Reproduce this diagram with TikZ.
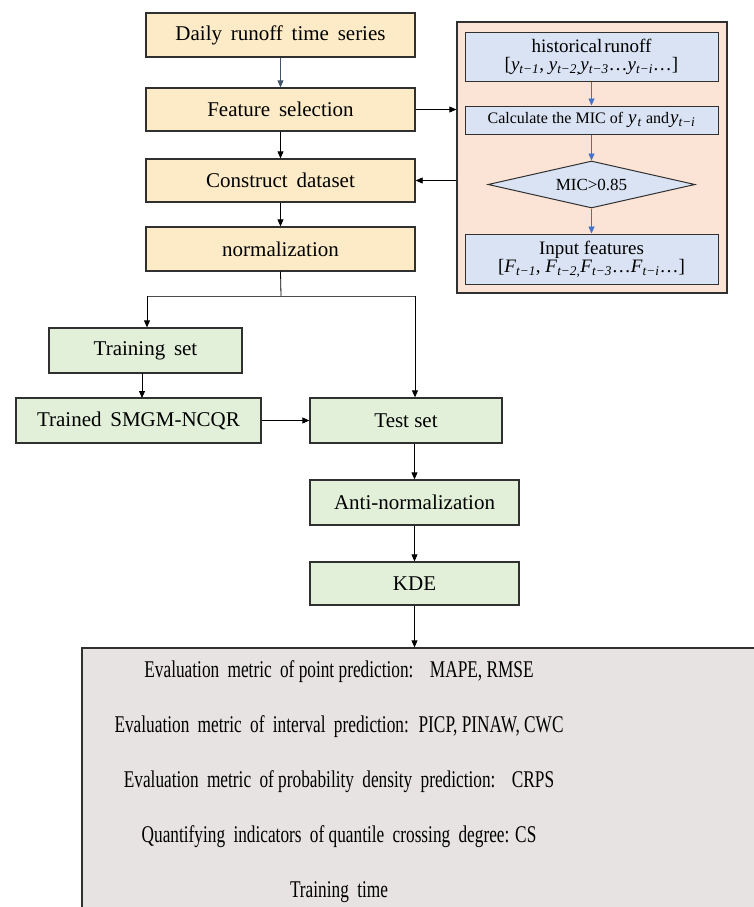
\documentclass[tikz,border=0pt]{standalone}
\usepackage{fontspec}
\setmainfont{Liberation Serif}
\newfontfamily\condfont{Liberation Serif}[FakeStretch=0.72]
\usetikzlibrary{shapes.geometric,arrows.meta}
\definecolor{yel}{HTML}{FCEBC6}
\definecolor{grn}{HTML}{E2F0D9}
\definecolor{pnl}{HTML}{FBE3D6}
\definecolor{blu}{HTML}{DAE3F3}
\definecolor{gry}{HTML}{E7E3E3}
\definecolor{bord}{HTML}{303030}
\definecolor{arrblue}{HTML}{4472C4}
\definecolor{arrgray}{HTML}{44546A}
\newcommand\vy[2]{\textit{#1}\textsubscript{\textit{#2}}}
\tikzset{
  box/.style={draw=bord, line width=1.3pt, rectangle, inner sep=0pt, font=\fontsize{21}{24}\selectfont},
  ybox/.style={box, fill=yel},
  gbox/.style={box, fill=grn},
  bbox/.style={draw=bord, line width=1pt, rectangle, fill=blu, inner sep=0pt, align=center},
  arr/.style={line width=0.8pt, -{Triangle[length=7pt,width=6pt]}},
  barr/.style={line width=0.8pt, draw=arrblue, -{Triangle[length=7pt,width=6pt]}},
  evtext/.style={font=\condfont\fontsize{24}{26}\selectfont, inner sep=0pt}
}
\begin{document}
\begin{tikzpicture}[x=1pt,y=-1pt]
\useasboundingbox (0,0) rectangle (754,907);
\clip (0,0) rectangle (754,907);
% left column
\node[ybox, minimum width=269pt, minimum height=44pt] (daily) at (280.5,35) {Daily\, runoff\, time\, series};
\node[ybox, minimum width=269pt, minimum height=43pt] (feat) at (280.5,109.5) {Feature\, selection};
\node[ybox, minimum width=269pt, minimum height=43pt] (cons) at (280.5,180.5) {Construct\, dataset};
\node[ybox, minimum width=269pt, minimum height=44pt] (norm) at (280.5,249) {normalization};
% panel
\node[draw=bord, line width=1.3pt, fill=pnl, minimum width=270pt, minimum height=271pt, inner sep=0pt] (panel) at (592,157.5) {};
\node[bbox, minimum width=253pt, minimum height=48pt, font=\fontsize{19}{18}\selectfont] (hist) at (591.5,57) {historical\kern2pt runoff\\ {}[\vy{y}{t−1}, \vy{y}{t−2,}\vy{y}{t−3}…\vy{y}{t−i}…]};
\node[bbox, minimum width=253pt, minimum height=28pt, font=\fontsize{16}{16}\selectfont] (calc) at (591.5,120) {Calculate the MIC of \kern1pt{\fontsize{19}{19}\selectfont\vy{y}{\kern1pt t}} and\kern1pt{\fontsize{19}{19}\selectfont\vy{y}{t−i}}};
\node[diamond, draw=bord, line width=1pt, fill=blu, aspect=4.4, inner sep=0pt, minimum width=207pt, minimum height=47pt, font=\fontsize{17}{17}\selectfont] (dia) at (591.5,184.5) {MIC>0.85};
\node[bbox, minimum width=253pt, minimum height=50pt, font=\fontsize{19}{18}\selectfont] (inp) at (591.5,259) {Input features\\ {}[\vy{F}{t−1}, \vy{F}{t−2,}\vy{F}{t−3}…\vy{F}{t−i}…]};
% green boxes
\node[gbox, minimum width=193pt, minimum height=45pt] (train) at (145.5,350.5) {Training\, set};
\node[gbox, minimum width=245pt, minimum height=45pt] (trained) at (138.5,420.5) {Trained\, SMGM-NCQR};
\node[gbox, minimum width=192pt, minimum height=45pt] (test) at (406,420.5) {Test set};
\node[gbox, minimum width=209pt, minimum height=45pt] (anti) at (414.5,502.5) {Anti-normalization};
\node[gbox, minimum width=209pt, minimum height=43pt] (kde) at (414.5,583.5) {KDE};
% evaluation box
\node[draw=bord, line width=1.3pt, fill=gry, minimum width=688pt, minimum height=282pt, inner sep=0pt] (eval) at (426,789) {};
\node[evtext] (e1) at (339,672) {Evaluation\, metric\, of point prediction:\;\, MAPE, RMSE};
\node[evtext] (e2) at (339,727) {Evaluation\, metric\, of\, interval\, prediction:\, PICP, PINAW, CWC};
\node[evtext] (e3) at (339,782) {Evaluation\, metric\, of probability\, density\, prediction:\;\, CRPS};
\node[evtext] (e4) at (339,837) {Quantifying\, indicators\, of quantile\, crossing\, degree: CS};
\node[evtext] (e5) at (339,892) {Training\, time};
% connectors
\draw[arr, draw=arrgray] (daily) -- (feat);
\draw[arr] (feat) -- (cons);
\draw[arr] (cons) -- (norm);
\draw[arr] (feat.east) -- (feat.east -| panel.west);
\draw[arr] (panel.west |- cons.east) -- (cons.east);
\draw[barr] (hist) -- (calc);
\draw[barr] (calc) -- (dia);
\draw[barr] (dia) -- (inp);
\coordinate (split) at (281,296);
\coordinate (sl) at (147,296);
\coordinate (sr) at (415,296);
\draw[line width=0.8pt] (norm.south) -- (split);
\draw[line width=0.8pt, draw=black!70] (sl) -- (sr);
\draw[arr] (sl) -- (sl |- train.north);
\draw[arr] (sr) -- (sr |- test.north);
\draw[arr] (142,373) -- (142,398);
\draw[arr] (trained.east) -- (test.west);
\draw[arr] (test.south -| anti.south) -- (anti.north);
\draw[arr] (anti) -- (kde);
\draw[arr] (kde.south) -- (kde.south |- eval.north);
\end{tikzpicture}
\end{document}
